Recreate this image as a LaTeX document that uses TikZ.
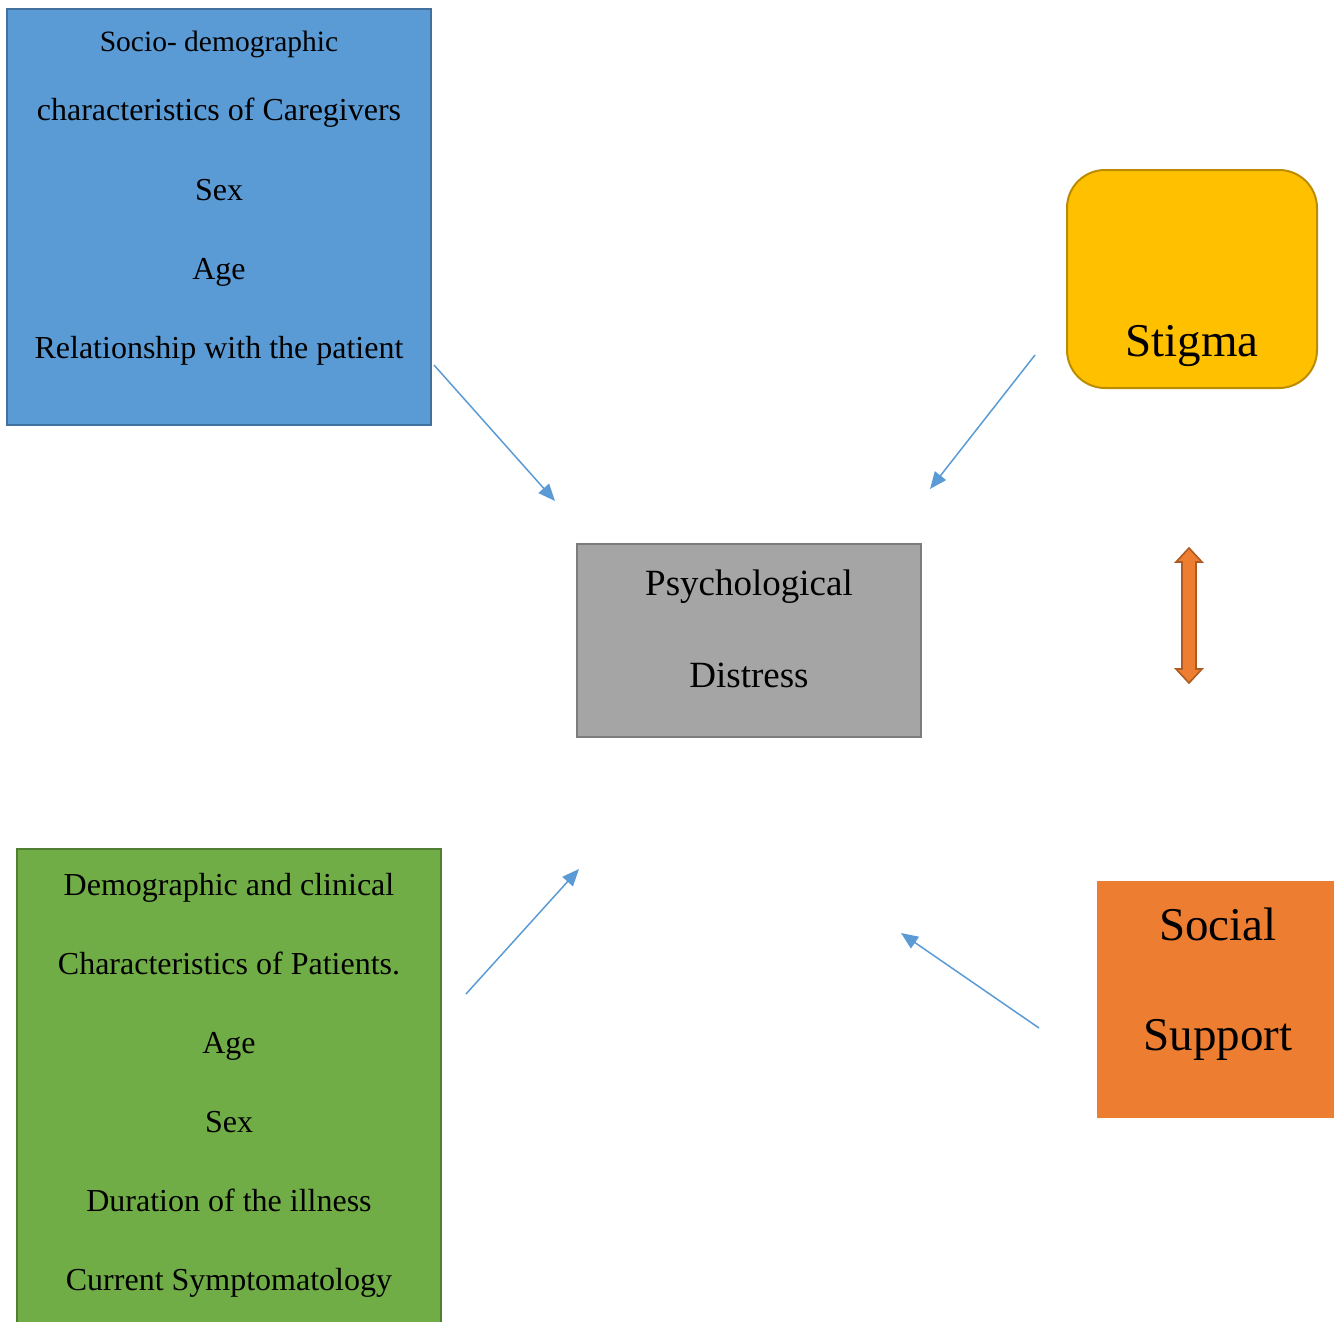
\documentclass[tikz,border=0pt]{standalone}
\usepackage{fontspec}
\setmainfont{Liberation Serif}
\usetikzlibrary{arrows.meta}
\definecolor{bluefill}{HTML}{5B9BD5}
\definecolor{blueline}{HTML}{41719C}
\definecolor{yelfill}{HTML}{FFC000}
\definecolor{yelline}{HTML}{BC8C00}
\definecolor{grayfill}{HTML}{A5A5A5}
\definecolor{grayline}{HTML}{7C7C7C}
\definecolor{grnfill}{HTML}{70AD47}
\definecolor{grnline}{HTML}{507E32}
\definecolor{orgfill}{HTML}{ED7D31}
\definecolor{orgline}{HTML}{AE5A21}
\begin{document}
\begin{tikzpicture}[x=1pt,y=-1pt,
  box/.style={draw, line width=2pt, inner sep=0pt, outer sep=0pt, rectangle},
  lbl/.style={anchor=base, inner sep=0pt, font=\fontsize{32}{38}\selectfont},
  slbl/.style={anchor=base, inner sep=0pt, font=\fontsize{29.5}{35}\selectfont},
  mlbl/.style={anchor=base, inner sep=0pt, font=\fontsize{37}{44}\selectfont},
  blbl/.style={anchor=base, inner sep=0pt, font=\fontsize{47}{56}\selectfont},
  link/.style={draw=bluefill, line width=1.5pt, -{Triangle[length=17pt,width=14pt]}}]
\useasboundingbox (0,0) rectangle (1334,1322);
% boxes
\path[box, draw=blueline, fill=bluefill] (7,9) rectangle (431,425);
\path[box, draw=yelline, fill=yelfill, rounded corners=38pt] (1067,170) rectangle (1317,388);
\path[box, draw=grayline, fill=grayfill] (577,544) rectangle (921,737);
\path[box, draw=grnline, fill=grnfill] (17,849) rectangle (441,1330);
\path[fill=orgfill] (1097,881) rectangle (1340,1118);
% texts blue
\node[slbl] (b1) at (219,52) {Socio- demographic};
\node[lbl] (b2) at (219,121) {characteristics of Caregivers};
\node[lbl] (b3) at (219,200) {Sex};
\node[lbl] (b4) at (219,279) {Age};
\node[lbl] (b5) at (219,358) {Relationship with the patient};
% texts green
\node[lbl] (g1) at (229,895) {Demographic and clinical};
\node[lbl] (g2) at (229,974) {Characteristics of Patients.};
\node[lbl] (g3) at (229,1053) {Age};
\node[lbl] (g4) at (229,1132) {Sex};
\node[lbl] (g5) at (229,1211) {Duration of the illness};
\node[lbl] (g6) at (229,1290) {Current Symptomatology};
% gray
\node[mlbl] (p1) at (749,595) {Psychological};
\node[mlbl] (p2) at (749,687) {Distress};
% stigma
\node[blbl] (st) at (1192,356) {Stigma};
% social support
\node[blbl] (s1) at (1218,940) {Social};
\node[blbl] (s2) at (1218,1050) {Support};
% arrows
\coordinate (a1s) at (434,365); \coordinate (a1e) at (555,501);
\coordinate (a2s) at (1035,355); \coordinate (a2e) at (930,489);
\coordinate (a3s) at (466,994); \coordinate (a3e) at (579,869);
\coordinate (a4s) at (1039,1028); \coordinate (a4e) at (901,933);
\draw[link] (a1s) -- (a1e);
\draw[link] (a2s) -- (a2e);
\draw[link] (a3s) -- (a3e);
\draw[link] (a4s) -- (a4e);
% double block arrow
\draw[fill=orgfill, draw=orgline, line width=1.6pt, line join=miter]
  (1189,548) -- (1202,562) -- (1196,562) -- (1196,669) -- (1202,669) -- (1189,683)
  -- (1176,669) -- (1182,669) -- (1182,562) -- (1176,562) -- cycle;
\end{tikzpicture}
\end{document}
